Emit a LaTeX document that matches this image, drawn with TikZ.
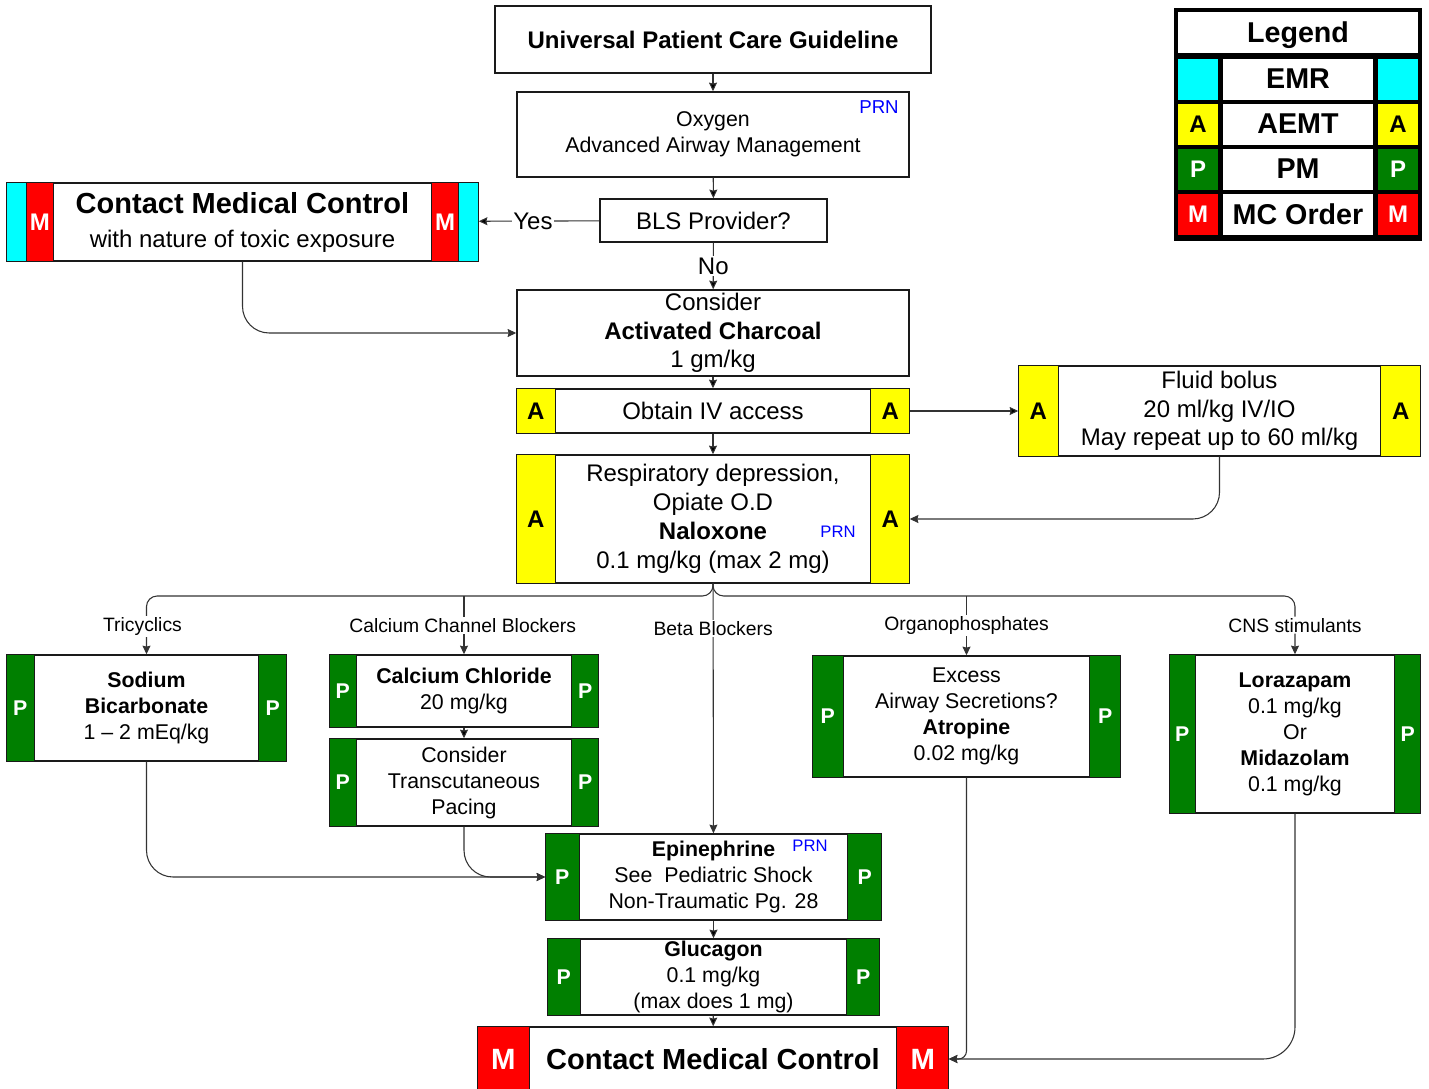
\documentclass[tikz,border=0pt]{standalone}
\usepackage{fontspec}
\setmainfont{Liberation Sans}
\usetikzlibrary{arrows.meta}

\definecolor{emrcyan}{HTML}{00FFFF}
\definecolor{aemtyellow}{HTML}{FFFF00}
\definecolor{pmgreen}{HTML}{007F00}
\definecolor{mcred}{HTML}{FF0000}
\definecolor{prnblue}{HTML}{0000FF}
\definecolor{boxline}{HTML}{1A1A1A}
\definecolor{conn}{HTML}{333333}

\tikzset{
  >={Stealth[length=6.5pt,width=6pt,inset=0.8pt]},
  box/.style={draw=boxline, line width=1.1pt, fill=white, align=center, inner sep=0pt},
  bx/.style 2 args={minimum width=#1*0.75pt, minimum height=#2*0.75pt},
  big/.style={font=\fontsize{18}{21.5}\selectfont},
  small/.style={font=\fontsize{16}{19.5}\selectfont},
  branch/.style={fill=white, inner sep=1pt, font=\fontsize{14.5}{16}\selectfont},
  answer/.style={fill=white, inner sep=1pt, font=\fontsize{18}{20}\selectfont},
  prn/.style={text=prnblue, inner sep=0pt, font=\fontsize{14}{16}\selectfont},
  line/.style={draw=conn, line width=0.8pt},
  atab/.style={fill=aemtyellow, text=black},
  ptab/.style={fill=pmgreen, text=white},
  mtab/.style={fill=mcred, text=white},
  etab/.style={fill=emrcyan},
  lgcell/.style={inner sep=0pt, font=\bfseries\fontsize{21.5}{24}\selectfont},
}

% coloured side tabs: [letter size]{node}{tab style}{from}{to}{letter}
\newcommand{\tabs}[6][18]{%
  \draw[#3, draw=boxline, line width=1.1pt] ([xshift=#4*0.75pt]#2.north west) rectangle ([xshift=#5*0.75pt]#2.south west);
  \draw[#3, draw=boxline, line width=1.1pt] ([xshift=-#4*0.75pt]#2.north east) rectangle ([xshift=-#5*0.75pt]#2.south east);
  \node[#3, fill=none, inner sep=0pt, font=\bfseries\fontsize{#1}{#1}\selectfont] (#2-l) at ([xshift={(#4+#5)/2*0.75pt}]#2.west) {#6};
  \node[#3, fill=none, inner sep=0pt, font=\bfseries\fontsize{#1}{#1}\selectfont] (#2-r) at ([xshift={-(#4+#5)/2*0.75pt}]#2.east) {#6};
}

\begin{document}
\begin{tikzpicture}[x=0.75pt,y=-0.75pt]
\useasboundingbox (0,0) rectangle (1429,1089);

% main column
\node[box, bx={436}{67}, font=\bfseries\fontsize{18}{21.5}\selectfont] (upcg) at (713,39.5) {Universal Patient Care Guideline};
\node[box, small, bx={392}{85}] (oxy) at (713,134.5) {Oxygen\\Advanced Airway Management};
\node[prn] (oxy-prn) at (879,107) {PRN};
\node[box, big, bx={227}{43}] (bls) at (713.5,220.5) {BLS Provider?};
\node[box, bx={471}{78}, font=\fontsize{18}{25.5}\selectfont] (cmc) at (242.5,222)
  {{\bfseries\fontsize{21.75}{25.5}\selectfont Contact Medical Control}\\with nature of toxic exposure};
\tabs{cmc}{mtab}{20}{47}{M}
\tabs{cmc}{etab}{0}{20}{}
\node[box, big, bx={392}{86}] (char) at (713,333) {Consider\\\textbf{Activated Charcoal}\\1 gm/kg};
\node[box, big, bx={392}{44}] (iv) at (713,411) {Obtain IV access};
\tabs{iv}{atab}{0}{39}{A}
\node[box, big, bx={401}{90}] (fluid) at (1219.5,411) {Fluid bolus\\20 ml/kg IV/IO\\May repeat up to 60 ml/kg};
\tabs{fluid}{atab}{0}{40}{A}
\node[box, big, bx={392}{128}, font=\fontsize{18}{21.75}\selectfont] (nal) at (713,519)
  {Respiratory depression,\\Opiate O.D\\\textbf{Naloxone}\\0.1 mg/kg (max 2 mg)};
\tabs{nal}{atab}{0}{39}{A}
\node[prn, font=\fontsize{12.5}{14}\selectfont] (nal-prn) at (838,532) {PRN};

% toxin branches
\coordinate (bus) at (713,596);
\node[box, small, bx={279}{106}] (soda) at (146.5,708) {\textbf{Sodium}\\\textbf{Bicarbonate}\\1 – 2 mEq/kg};
\tabs[16]{soda}{ptab}{0}{28}{P}
\node[box, small, bx={268}{72}] (cacl) at (464,691) {\textbf{Calcium Chloride}\\20 mg/kg};
\tabs[16]{cacl}{ptab}{0}{27}{P}
\node[box, small, bx={268}{87}] (pace) at (464,782.5) {Consider\\Transcutaneous\\Pacing};
\tabs[16]{pace}{ptab}{0}{27}{P}
\node[box, small, bx={307}{121}] (atro) at (966.5,716.5) {Excess\\Airway Secretions?\\\textbf{Atropine}\\0.02 mg/kg};
\tabs[16]{atro}{ptab}{0}{31}{P}
\node[box, small, bx={250}{158}] (cns) at (1295,734) {\textbf{Lorazapam}\\0.1 mg/kg\\Or\\\textbf{Midazolam}\\0.1 mg/kg};
\tabs[16]{cns}{ptab}{0}{26}{P}
\node[box, small, bx={335}{86}] (epi) at (713.5,877) {\textbf{Epinephrine}\\See\ \ Pediatric Shock\\Non-Traumatic Pg. 28};
\tabs[16]{epi}{ptab}{0}{34}{P}
\node[prn, font=\fontsize{12.5}{14}\selectfont] (epi-prn) at (810,846) {PRN};
\node[box, small, bx={331}{76}] (gluc) at (713.5,977) {\textbf{Glucagon}\\0.1 mg/kg\\(max does 1 mg)};
\tabs[16]{gluc}{ptab}{0}{33}{P}
\node[box, bx={470}{64}, font=\bfseries\fontsize{21.75}{24}\selectfont] (mc) at (713,1059) {Contact Medical Control};
\tabs[22]{mc}{mtab}{0}{52}{M}

% legend
\fill[black] (1174,8) rectangle (1422,241);
\node[lgcell, fill=white, bx={240}{41}, text depth=0pt] (lg) at (1298,32.5) {Legend};
\foreach \y/\t/\c/\tc/\l [count=\i] in {79/EMR/emrcyan/black/{},124/AEMT/aemtyellow/black/A,169/PM/pmgreen/white/P,214/MC Order/mcred/white/M}
{
  \node[lgcell, fill=white, bx={150}{41}] (lg-\i) at (1298,\y) {\t};
  \node[lgcell, fill=\c, text=\tc, bx={40}{41}, font=\bfseries\fontsize{18}{20}\selectfont] (lg-\i-l) at (1198,\y) {\l};
  \node[lgcell, fill=\c, text=\tc, bx={40}{41}, font=\bfseries\fontsize{18}{20}\selectfont] (lg-\i-r) at (1398,\y) {\l};
}

% connectors
\path[line,->] (upcg) edge (oxy);
\path[line,->] (oxy) edge (bls);
\path[line,->] (bls) edge node[answer, pos=0.55] {Yes} (cmc);
\path[line,->] (bls) edge node[answer] {No} (char);
\draw[line,->,rounded corners=20pt] (cmc) |- (char);
\path[line,->] (char) edge (iv);
\path[line,->] (iv) edge (fluid);
\path[line,->] (iv) edge (nal);
\draw[line,->,rounded corners=20pt] (fluid) |- (nal);

\draw[line,->,rounded corners=8pt] (nal.south) |- (soda.north |- bus) -- node[branch, xshift=-3pt, yshift=-1pt] {Tricyclics} (soda.north);
\draw[line,->,rounded corners=8pt] (nal.south) |- (cns.north |- bus) -- node[branch] {CNS stimulants} (cns.north);
\draw[line,->] (cacl.north |- bus) -- node[branch, xshift=-1pt] {Calcium Channel Blockers} (cacl.north);
\draw[line,->] (atro.north |- bus) -- node[branch] {Organophosphates} (atro.north);
\draw[line,->] (nal) -- node[branch, pos=0.18] {Beta Blockers} (epi);

\path[line,->] (cacl) edge (pace);
\draw[line,->,rounded corners=20pt] (soda) |- (epi);
\draw[line,->,rounded corners=20pt] (pace) |- (epi);
\path[line,->] (epi) edge (gluc);
\path[line,->] (gluc) edge (mc);
\draw[line,->,rounded corners=6pt] (atro) |- (mc);
\draw[line,->,rounded corners=24pt] (cns) |- (mc);
\end{tikzpicture}
\end{document}
